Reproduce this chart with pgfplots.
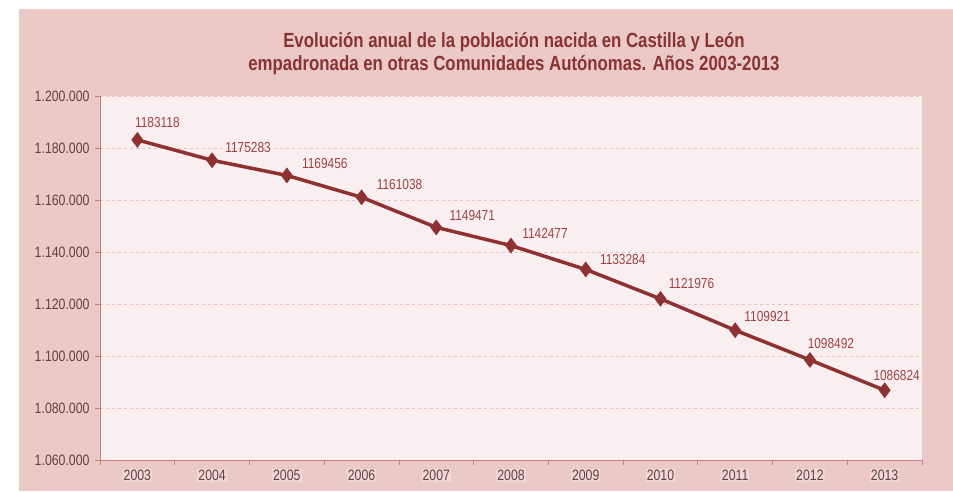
\documentclass[border=0pt]{standalone}
\usepackage{fontspec}
\setmainfont[FakeStretch=0.82]{Liberation Sans}
\usepackage{pgfplots}
\pgfplotsset{compat=1.18}
\usepackage{pgfplotstable}
\definecolor{outerbg}{RGB}{234,201,199}
\definecolor{plotbg}{RGB}{249,239,240}
\definecolor{linecol}{RGB}{142,49,49}
\definecolor{titlecol}{RGB}{139,50,50}
\definecolor{tickcol}{RGB}{100,64,64}
\definecolor{labcol}{RGB}{160,66,66}
\definecolor{gridcol}{RGB}{232,192,192}
\definecolor{axiscol}{RGB}{196,128,128}
\definecolor{xlabbg}{RGB}{240,216,215}
\pgfplotstableread{
x val label dx dy
0 1183118 1183118 20 17
1 1175283 1175283 36 13
2 1169456 1169456 38 12
3 1161038 1161038 38 13
4 1149471 1149471 36 12
5 1142477 1142477 34 12
6 1133284 1133284 37 10
7 1121976 1121976 31 15
8 1109921 1109921 32 14
9 1098492 1098492 21 16
10 1086824 1086824 12 15
}\datatable
\begin{document}
\begin{tikzpicture}[x=1pt,y=1pt]
\fill[white] (0,0) rectangle (953,491);
\fill[outerbg] (19,0) rectangle (953,482);
\node[font=\fontsize{20.5}{23}\selectfont\bfseries, text=titlecol, align=center] at (514,437.5)
  {Evolución anual de la población nacida en Castilla y León\\empadronada en otras Comunidades Autónomas. Años 2003-2013};
\begin{axis}[
  at={(100pt,31pt)}, anchor=south west,
  width=822pt, height=364pt, scale only axis,
  xmin=-0.5, xmax=10.5, ymin=1060000, ymax=1200000,
  axis x line*=bottom, axis y line*=left,
  axis background/.style={fill=plotbg},
  axis line style={axiscol, line width=1pt},
  ytick={1060000,1080000,1100000,1120000,1140000,1160000,1180000,1200000},
  scaled y ticks=false,
  yticklabel style={/pgf/number format/.cd, fixed, 1000 sep={.}, assume math mode=true, /tikz/.cd, xshift=-2pt},
  ymajorgrids, grid style={dashed, gridcol, line width=0.7pt},
  xtick={0,...,10},
  xticklabels={2003,2004,2005,2006,2007,2008,2009,2010,2011,2012,2013},
  major x tick style={draw=none},
  minor xtick={-0.5,0.5,...,10.5},
  tick align=outside, major tick length=5pt, minor tick length=5pt,
  tick style={axiscol, line width=0.8pt},
  ticklabel style={font=\fontsize{15}{17}\selectfont, text=tickcol},
  xticklabel style={fill=xlabbg, inner sep=1pt, yshift=-4pt},
  clip=false,
]
\addplot[linecol, line width=3.5pt, mark=diamond*, mark size=7.5pt,
  mark options={fill=linecol, draw=linecol, line width=0.5pt},
  point meta=explicit symbolic,
  visualization depends on={\thisrow{dx} \as \dx},
  visualization depends on={\thisrow{dy} \as \dy},
  nodes near coords,
  nodes near coords style={anchor=center, xshift=\dx pt, yshift=\dy pt,
    font=\fontsize{14.5}{16}\selectfont, text=labcol},
] table[x=x, y=val, meta=label] {\datatable};
\end{axis}
\end{tikzpicture}
\end{document}
